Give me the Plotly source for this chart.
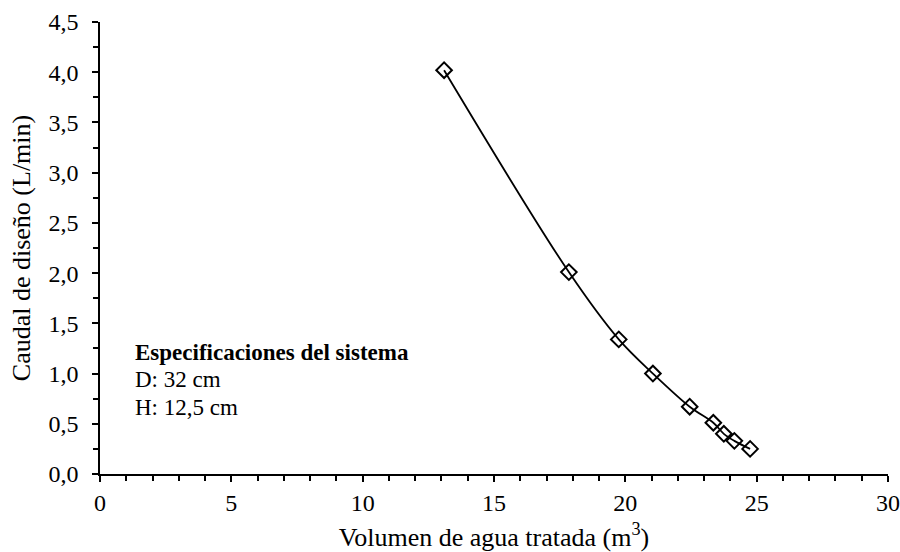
import plotly.graph_objects as go

# Data
volumen = [13.1, 17.85, 19.75, 21.05, 22.45, 23.35, 23.75, 24.15, 24.75]
caudal = [4.02, 2.01, 1.34, 1.00, 0.67, 0.51, 0.40, 0.33, 0.25]

x_title = "Volumen de agua tratada (m<sup>3</sup>)"
y_title = "Caudal de diseño (L/min)"
spec_lines = ["<b>Especificaciones del sistema</b>", "D: 32 cm", "H: 12,5 cm"]
spec_y = [1.21, 0.94, 0.665]

FONT = "Liberation Serif, Times New Roman, serif"

fig = go.Figure()
fig.add_trace(go.Scatter(
    x=volumen, y=caudal,
    mode="lines+markers",
    line=dict(color="black", width=1.8, shape="spline", smoothing=1),
    marker=dict(symbol="diamond-open", size=12, color="black", line=dict(width=2, color="black")),
    showlegend=False,
))

for txt, yy in zip(spec_lines, spec_y):
    fig.add_annotation(x=1.25, y=yy, xref="x", yref="y", text=txt, showarrow=False,
                       xanchor="left", yanchor="middle",
                       font=dict(family=FONT, size=23, color="black"))

axis_common = dict(
    showline=True, linecolor="black", linewidth=1.5,
    ticks="outside", ticklen=6, tickwidth=1.5, tickcolor="black",
    showgrid=False, zeroline=False, automargin=False,
    tickfont=dict(family=FONT, size=24, color="black"),
    title_font=dict(family=FONT, size=26, color="black"),
)

fig.update_xaxes(range=[0, 30], dtick=5, tick0=0, title_text=x_title, title_standoff=13,
                 minor=dict(ticks="outside", dtick=1, ticklen=5, tickwidth=1.5, tickcolor="black"),
                 **axis_common)
fig.update_yaxes(range=[0, 4.5], dtick=0.5, tick0=0, tickformat=".1f", title_text=y_title,
                 title_standoff=10, ticklabelstandoff=9,
                 minor=dict(ticks="outside", dtick=0.25, ticklen=5, tickwidth=1.5, tickcolor="black"),
                 **axis_common)

fig.update_layout(
    width=900, height=552,
    margin=dict(l=100, r=12, t=22, b=78),
    plot_bgcolor="white", paper_bgcolor="white",
    separators=",.",
    font=dict(family=FONT, color="black"),
)

fig.write_html("out.html")
